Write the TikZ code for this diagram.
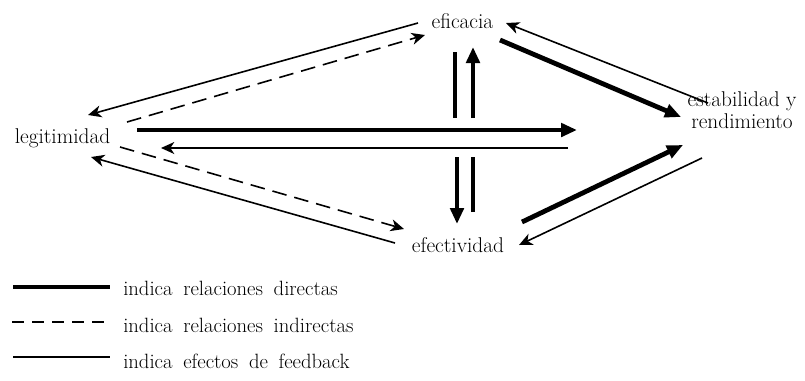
\documentclass[tikz,border=0pt]{standalone}
\usepackage{fontspec}
\usetikzlibrary{arrows.meta}
\newcommand\myLegFont{\fontsize{15.5}{17}\selectfont\addfontfeature{FakeBold=1.2}\spaceskip=8pt plus 1pt\relax}
\newcommand\myLblFont{\fontsize{16}{16.5}\selectfont\addfontfeature{FakeBold=1.2}}
\begin{document}
\begin{tikzpicture}[x=0.75pt,y=-0.75pt,
  lbl/.style={inner sep=0pt, anchor=base, font=\myLblFont},
  leg/.style={inner sep=0pt, anchor=base west, font=\myLegFont},
  direct/.style={line width=3.6pt, -{Triangle[length=12pt,width=10pt]}},
  directbar/.style={line width=3.6pt},
  feedback/.style={line width=1.2pt, -{Stealth[length=10pt,width=9pt,inset=3pt]}},
  indirect/.style={line width=1.2pt, dash pattern=on 11pt off 6pt, -{Stealth[length=10pt,width=9pt,inset=3pt]}}]
\useasboundingbox (0,0) rectangle (805,380);

% nodes
\node[lbl] (efic) at (462.5,28) {eficacia};
\node[lbl] (legit) at (62.5,143) {legitimidad};
\node[lbl, align=center] (estab) at (742,128) {estabilidad y\\rendimiento};
\node[lbl] (efect) at (458,252) {efectividad};

% endpoints
\coordinate (a1) at (418,23);  \coordinate (a2) at (88,115);
\coordinate (b1) at (127,122); \coordinate (b2) at (425,35);
\coordinate (c1) at (137,130); \coordinate (c2) at (577,130);
\coordinate (d1) at (568,148); \coordinate (d2) at (161,148);
\coordinate (e1) at (120,147); \coordinate (e2) at (404,229);
\coordinate (f1) at (395,243); \coordinate (f2) at (91,157);
\coordinate (g1) at (500,40);  \coordinate (g2) at (681,117);
\coordinate (h1) at (708,103); \coordinate (h2) at (506,23);
\coordinate (i1) at (522,222); \coordinate (i2) at (683,145);
\coordinate (j1) at (702,158); \coordinate (j2) at (519,245);
\coordinate (k1) at (455,52);  \coordinate (k2) at (455,118);
\coordinate (k3) at (457,157); \coordinate (k4) at (457,224);
\coordinate (m1) at (473,212); \coordinate (m2) at (473,157);
\coordinate (m3) at (473,118); \coordinate (m4) at (473,47);

% legitimidad relations
\draw[feedback] (a1) -- (a2);
\draw[indirect] (b1) -- (b2);
\draw[direct] (c1) -- (c2);
\draw[feedback] (d1) -- (d2);
\draw[indirect] (e1) -- (e2);
\draw[feedback] (f1) -- (f2);

% estabilidad relations
\draw[direct] (g1) -- (g2);
\draw[feedback] (h1) -- (h2);
\draw[direct] (i1) -- (i2);
\draw[feedback] (j1) -- (j2);

% vertical relations
\draw[directbar] (k1) -- (k2);
\draw[direct] (k3) -- (k4);
\draw[directbar] (m1) -- (m2);
\draw[direct] (m3) -- (m4);

% legend
\coordinate (L1a) at (13,287); \coordinate (L1b) at (110,287);
\coordinate (L2a) at (12,322); \coordinate (L2b) at (110,322);
\coordinate (L3a) at (13,357); \coordinate (L3b) at (110,357);
\draw[directbar] (L1a) -- (L1b);
\draw[line width=1.2pt, dash pattern=on 9pt off 6pt] (L2a) -- (L2b);
\draw[line width=1.2pt] (L3a) -- (L3b);
\node[leg] (t1) at (123,295) {indica relaciones directas};
\node[leg] (t2) at (123,332) {indica relaciones indirectas};
\node[leg] (t3) at (123,368) {indica efectos de feedback};
\end{tikzpicture}
\end{document}
